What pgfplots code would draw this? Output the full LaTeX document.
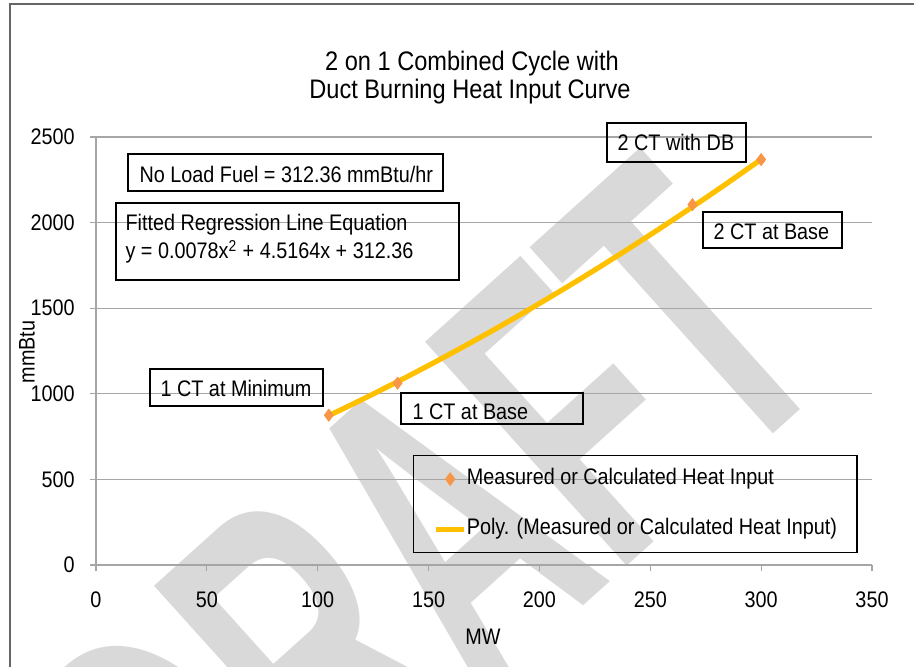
\documentclass[border=0pt]{standalone}
\usepackage{fontspec}
\setmainfont{Liberation Sans}[FakeStretch=0.88]
\newfontfamily\wmfont{Liberation Sans}
\usepackage{pgfplots}
\pgfplotsset{compat=1.18}
\definecolor{mkorange}{RGB}{247,150,70}
\definecolor{trendgold}{RGB}{255,192,0}
\definecolor{gridgray}{RGB}{166,166,166}
\definecolor{wmgray}{RGB}{217,217,217}
\newcommand\lbl{\fontsize{11.25}{13.5}\selectfont}
\pgfplotsset{
  markleg/.style={legend image code/.code={\draw[##1] plot coordinates {(7pt,0pt)};}},
  lineleg/.style={legend image code/.code={\draw[##1] (0pt,0pt) -- (14pt,0pt);}},
}

\begin{document}
\begin{tikzpicture}
% px grid: 1px = 0.5pt, y downwards from the top-left corner
\begin{scope}[x=0.5pt,y=-0.5pt]
\useasboundingbox (0,0) rectangle (914,667);
\begin{scope}
\clip (0,0) rectangle (914,667);
\node[wmgray, font=\wmfont\bfseries\fontsize{219}{219}\selectfont, rotate=42, xscale=0.578,
      anchor=base east, inner sep=0pt] at (845,370) {DRAFT};
\end{scope}
\draw[black!60, line width=0.6pt] (10,667) -- (10,4) -- (914,4);
\node[anchor=base, inner sep=0pt, font=\fontsize{13.4}{13.75}\selectfont] at (472,71) {2 on 1 Combined Cycle with};
\node[anchor=base, inner sep=0pt, font=\fontsize{13.4}{13.75}\selectfont] at (470,98.5) {Duct Burning Heat Input Curve};
\end{scope}

\begin{axis}[
  at={(48pt,-282.5pt)}, anchor=south west,
  x=1.10857pt, y=0.0856pt,
  xmin=0, xmax=350, ymin=0, ymax=2500,
  xtick={0,50,...,350}, ytick={0,500,...,2500},
  axis x line*=bottom, axis y line*=left,
  axis line style={gridgray, line width=0.6pt, -},
  ymajorgrids, grid style={gridgray, line width=0.6pt},
  tick align=outside, major tick length=3pt,
  tick style={gridgray, line width=0.6pt},
  /pgf/number format/assume math mode=true,
  /pgf/number format/1000 sep={},
  ticklabel style={font=\lbl, inner sep=0pt},
  xticklabel style={anchor=base, yshift=-18pt},
  yticklabel style={anchor=east, xshift=-7.5pt},
  xlabel={MW}, ylabel={mmBtu},
  xlabel style={font=\lbl, at={(axis description cs:0.4987,-0.168)}, anchor=center},
  ylabel style={font=\lbl, at={(axis description cs:-0.0889,0.498)}, anchor=center},
  legend style={at={(axis description cs:0.4085,0.2570)}, anchor=north west,
    draw=black, line width=0.6pt, fill=none, font=\lbl,
    inner xsep=10pt, inner ysep=6.5pt, row sep=14.5pt, column sep=0pt,
    nodes={inner sep=0pt, text height=8pt, text depth=2.5pt}},
  legend cell align=left,
]
\addplot[only marks, mark=diamond*, mark size=3pt, mkorange, markleg]
  coordinates {(105,875) (136,1062) (269,2105) (300,2368)};
\addlegendentry{Measured or Calculated Heat Input}
\addplot[trendgold, line width=2.6pt, smooth, no markers, lineleg]
  coordinates {(105,872.6) (120,966.6) (140,1097.5) (160,1234.7) (180,1378.0)
    (200,1527.6) (220,1683.5) (240,1845.6) (260,2013.9) (280,2188.5) (300,2369.3)};
\addlegendentry{Poly. (Measured or Calculated Heat Input)}
\end{axis}

% text boxes
\begin{scope}[x=0.5pt,y=-0.5pt,line width=0.6pt]
\draw (128,154) rectangle (443,191);
\node[anchor=base west, inner sep=0pt, font=\lbl] at (139,183) {No Load Fuel = 312.36 mmBtu/hr};
\draw (116,203) rectangle (459,280);
\node[anchor=base west, inner sep=0pt, font=\lbl] at (125,231) {Fitted Regression Line Equation};
\node[anchor=base west, inner sep=0pt, font=\lbl] at (125,259) {y = 0.0078x\textsuperscript{2} + 4.5164x + 312.36};
\draw (150,369) rectangle (323,406);
\node[anchor=base west, inner sep=0pt, font=\lbl] at (160,397) {1 CT at Minimum};
\draw (401,393) rectangle (583,424);
\node[anchor=base west, inner sep=0pt, font=\lbl] at (412,420) {1 CT at Base};
\draw (607,123) rectangle (746,162);
\node[anchor=base west, inner sep=0pt, font=\lbl] at (617,151) {2 CT with DB};
\draw (703,212) rectangle (842,248);
\node[anchor=base west, inner sep=0pt, font=\lbl] at (713,240) {2 CT at Base};
\end{scope}
\end{tikzpicture}
\end{document}
